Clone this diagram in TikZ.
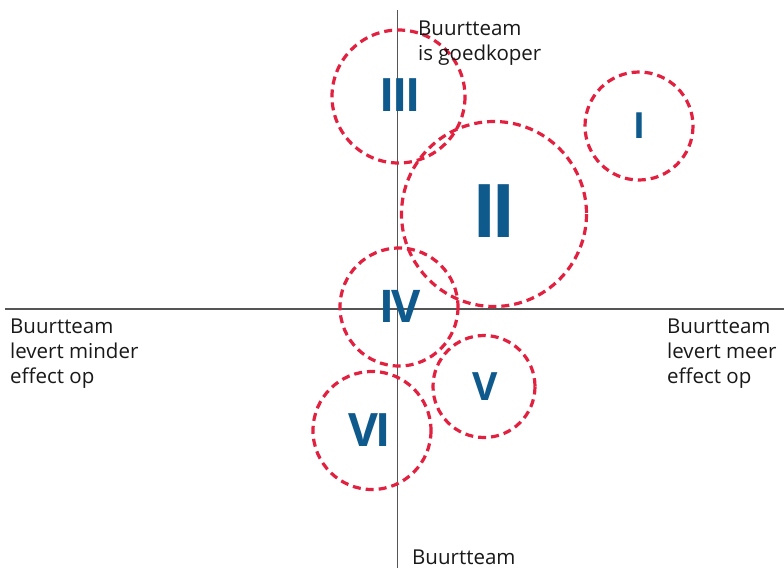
\documentclass[tikz,border=0pt]{standalone}
\usepackage{fontspec}
\setmainfont{Open Sans}
\definecolor{ringred}{HTML}{E2203F}
\definecolor{numblue}{HTML}{0F5A8C}
\definecolor{axisgray}{HTML}{555555}
\tikzset{
  ring/.style={draw=ringred, line width=3.2pt, dash pattern=on 8pt off 5pt, fill=none},
  axis/.style={draw=axisgray, line width=1.3pt},
  numeral/.style={text=numblue, font=\bfseries\fontsize{#1}{#1}\selectfont, inner sep=0pt},
  caption/.style={font=\fontsize{20.5}{25}\selectfont, align=left, inner sep=0pt, anchor=base west, text=black!90}
}
\begin{document}
\begin{tikzpicture}[x=1pt, y=-1pt]
  \useasboundingbox (0,0) rectangle (784,568);
  \fill[white] (0,0) rectangle (784,568);

  % axes
  \coordinate (xl) at (5,309);
  \coordinate (xr) at (784,309);
  \coordinate (yt) at (397.5,10);
  \coordinate (yb) at (397.5,568);
  \draw[axis] (xl) -- (xr);
  \draw[axis] (yt) -- (yb);

  % dashed circles
  \draw[ring] (398.5,96.5) circle[radius=66.5];
  \draw[ring] (639,126) circle[radius=54];
  \draw[ring] (494,214) circle[radius=92.5];
  \draw[ring] (399,307) circle[radius=59];
  \draw[ring] (484,386.5) circle[radius=51];
  \draw[ring] (372,430.5) circle[radius=59];

  % roman numerals, set slightly tight
  \node[numeral=46] (n3) at (400,95) {I\kern-2.5pt I\kern-2.5pt I};
  \node[numeral=36] (n1) at (639.5,126) {I};
  \node[numeral=74] (n2) at (494,211) {I\kern-5pt I};
  \node[numeral=45] (n4) at (400,306) {I\kern-3pt V};
  \node[numeral=39] (n5) at (485,387) {V};
  \node[numeral=46] (n6) at (370,430) {V\kern-3pt I};

  % axis captions (anchored at the baseline of their last line)
  \node[caption] (top) at (418,60) {Buurtteam\\is goedkoper};
  \node[caption] (left) at (10,383) {Buurtteam\\levert minder\\effect op};
  \node[caption] (right) at (667,383) {Buurtteam\\levert meer\\effect op};
  \node[caption] (bottom) at (412,564) {Buurtteam};
\end{tikzpicture}
\end{document}
